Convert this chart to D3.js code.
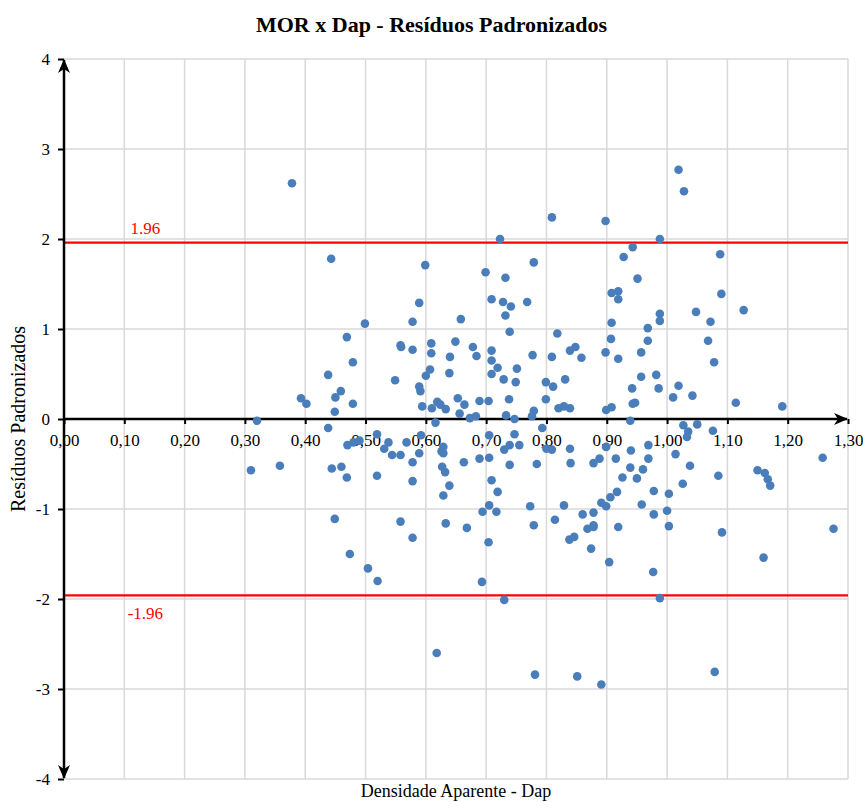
<!DOCTYPE html>
<html>
<head>
<meta charset="utf-8">
<script src="https://cdn.jsdelivr.net/npm/d3@7"></script>
<style>
    body { margin: 0; background: white; }
    text { font-family: "Liberation Serif", "Times New Roman", serif; }
</style>
</head>
<body>
<div id="canvas"></div>
<script>
// DATA
const dap = [
    0.378, 0.310, 0.320, 0.358, 0.393, 0.402, 0.443, 0.469, 0.499, 0.438,
    0.479, 0.450, 0.459, 0.449, 0.479, 0.599, 0.589, 0.578, 0.558, 0.559,
    0.578, 0.609, 0.609, 0.607, 0.600, 0.549, 0.589, 0.591, 0.594, 0.610,
    0.619, 0.809, 0.898, 0.723, 0.943, 0.928, 0.779, 0.699, 0.732, 0.951,
    0.908, 0.919, 0.919, 0.709, 0.728, 0.741, 0.768, 0.732, 0.658, 0.908,
    0.739, 0.818, 0.907, 0.649, 0.678, 0.709, 0.839, 0.848, 0.898, 0.957,
    0.640, 0.684, 0.777, 0.809, 0.858, 0.919, 0.709, 0.719, 0.751, 0.639,
    0.709, 0.729, 0.749, 0.799, 0.811, 0.831, 0.957, 0.942, 0.653, 0.689,
    0.704, 0.738, 0.799, 0.943, 0.947, 0.624, 0.633, 0.664, 0.656, 0.673,
    0.683, 0.733, 0.747, 0.776, 0.779, 0.820, 0.829, 0.839, 0.899, 0.908,
    0.939, 1.019, 1.028, 0.988, 1.088, 1.090, 1.127, 1.048, 0.988, 0.988,
    1.072, 0.968, 1.068, 0.968, 1.078, 0.982, 0.986, 1.019, 1.010, 1.042,
    1.114, 1.191, 0.438, 0.470, 0.480, 0.490, 0.519, 0.538, 0.531, 0.544,
    0.558, 0.568, 0.592, 0.589, 0.578, 0.578, 0.616, 0.444, 0.460, 0.469,
    0.519, 0.449, 0.558, 0.578, 0.474, 0.504, 0.520, 0.793, 0.629, 0.626,
    0.629, 0.627, 0.632, 0.639, 0.629, 0.633, 0.663, 0.689, 0.705, 0.705,
    0.730, 0.739, 0.747, 0.755, 0.739, 0.709, 0.719, 0.694, 0.705, 0.717,
    0.668, 0.704, 0.693, 0.730, 0.784, 0.773, 0.779, 0.800, 0.809, 0.814,
    0.829, 0.839, 0.840, 0.838, 0.846, 0.860, 0.878, 0.868, 0.878, 0.878,
    0.874, 0.878, 0.888, 0.899, 0.915, 0.891, 0.899, 0.906, 0.917, 0.926,
    0.939, 0.940, 0.950, 0.919, 0.904, 0.960, 0.969, 0.969, 0.978, 0.958,
    0.978, 0.977, 0.988, 1.000, 1.003, 1.003, 1.014, 1.026, 1.038, 1.027,
    1.035, 1.033, 1.050, 1.076, 1.085, 1.091, 1.150, 1.162, 1.167, 1.171,
    1.160, 1.258, 1.276, 0.618, 0.781, 0.851, 0.891, 1.079
];

const residuos = [
    2.62, -0.57, -0.02, -0.52, 0.23, 0.17, 1.78, 0.91, 1.06, 0.49,
    0.63, 0.24, 0.31, 0.08, 0.17, 1.71, 1.29, 1.08, 0.82, 0.80,
    0.77, 0.84, 0.73, 0.55, 0.48, 0.43, 0.36, 0.31, 0.14, 0.12,
    0.19, 2.24, 2.20, 2.00, 1.91, 1.80, 1.74, 1.63, 1.57, 1.56,
    1.40, 1.42, 1.33, 1.33, 1.30, 1.25, 1.30, 1.15, 1.11, 1.07,
    0.97, 0.95, 0.89, 0.86, 0.80, 0.76, 0.76, 0.80, 0.74, 0.74,
    0.69, 0.70, 0.71, 0.69, 0.68, 0.67, 0.65, 0.57, 0.56, 0.51,
    0.50, 0.44, 0.41, 0.41, 0.36, 0.44, 0.47, 0.34, 0.23, 0.20,
    0.20, 0.22, 0.22, 0.17, 0.18, 0.16, 0.11, 0.16, 0.06, 0.01,
    0.03, 0.04, 0.00, 0.03, 0.09, 0.12, 0.14, 0.12, 0.10, 0.13,
    -0.02, 2.77, 2.53, 2.00, 1.83, 1.39, 1.21, 1.19, 1.17, 1.09,
    1.08, 1.01, 0.87, 0.87, 0.63, 0.49, 0.34, 0.37, 0.24, 0.26,
    0.18, 0.14, -0.10, -0.29, -0.26, -0.24, -0.17, -0.26, -0.33, -0.40,
    -0.40, -0.26, -0.18, -0.38, -0.48, -0.69, -0.04, -0.55, -0.53, -0.65,
    -0.63, -1.11, -1.14, -1.32, -1.50, -1.66, -1.80, -0.10, -0.31, -0.36,
    -0.38, -0.53, -0.59, -0.74, -0.85, -1.16, -0.48, -0.44, -0.18, -0.43,
    -0.34, -0.29, -0.17, -0.29, -0.51, -0.68, -0.81, -1.03, -0.96, -1.03,
    -1.21, -1.37, -1.81, -2.01, -0.50, -0.97, -1.18, -0.33, -0.34, -1.12,
    -0.96, -0.33, -0.49, -1.34, -1.31, -1.06, -1.04, -1.22, -1.18, -1.20,
    -1.44, -0.49, -0.44, -0.31, -0.44, -0.93, -0.97, -0.87, -0.81, -0.65,
    -0.54, -0.35, -0.66, -1.20, -1.59, -0.56, -0.29, -0.44, -0.80, -0.95,
    -1.06, -1.70, -1.99, -1.02, -1.19, -0.83, -0.39, -0.72, -0.52, -0.07,
    -0.14, -0.20, -0.06, -0.13, -0.63, -1.26, -0.57, -0.60, -0.67, -0.74,
    -1.54, -0.43, -1.22, -2.60, -2.84, -2.86, -2.95, -2.81
];

const xTicks = [0, 0.1, 0.2, 0.3, 0.4, 0.5, 0.6, 0.7, 0.8, 0.9, 1.0, 1.1, 1.2, 1.3];
const xTickLabels = ["0,00", "0,10", "0,20", "0,30", "0,40", "0,50", "0,60",
    "0,70", "0,80", "0,90", "1,00", "1,10", "1,20", "1,30"];
const yTicks = [-4, -3, -2, -1, 0, 1, 2, 3, 4];
const yTickLabels = ["-4", "-3", "-2", "-1", "0", "1", "2", "3", "4"];
const limits = [1.96, -1.96];
const limitLabels = ["1.96", "-1.96"];

// DIMENSIONS
const width = 863;
const height = 802;
const margin = { top: 59, right: 15, bottom: 23, left: 64 };

// CANVAS
const svg = d3.select("#canvas")
    .append("svg")
    .attr("width", width)
    .attr("height", height);

// SCALES
const x = d3.scaleLinear().domain([0, 1.3]).range([margin.left, width - margin.right]);
const y = d3.scaleLinear().domain([-4, 4]).range([height - margin.bottom, margin.top]);

// ARROW MARKER
svg.append("defs").append("marker")
    .attr("id", "arrow")
    .attr("viewBox", "0 0 14 12")
    .attr("refX", 13)
    .attr("refY", 6)
    .attr("markerUnits", "userSpaceOnUse")
    .attr("markerWidth", 14)
    .attr("markerHeight", 12)
    .attr("orient", "auto-start-reverse")
    .append("path")
    .attr("d", "M0,0 L14,6 L0,12 L4,6 Z")
    .attr("fill", "black");

// GRID
const grid = svg.append("g").attr("stroke", "#d9d9d9").attr("stroke-width", 1.5);
grid.selectAll(".vg")
    .data(xTicks.slice(1))
    .enter().append("line")
    .attr("x1", d => x(d)).attr("x2", d => x(d))
    .attr("y1", y(4)).attr("y2", y(-4));
grid.selectAll(".hg")
    .data(yTicks)
    .enter().append("line")
    .attr("x1", x(0)).attr("x2", x(1.3))
    .attr("y1", d => y(d)).attr("y2", d => y(d));

// LIMIT LINES
svg.selectAll(".limit")
    .data(limits)
    .enter().append("line")
    .attr("x1", x(0)).attr("x2", x(1.3))
    .attr("y1", d => y(d)).attr("y2", d => y(d))
    .attr("stroke", "#ff0000")
    .attr("stroke-width", 2.2);

svg.selectAll(".limitLabel")
    .data(limits)
    .enter().append("text")
    .attr("x", x(0.135))
    .attr("y", d => d > 0 ? y(d) - 9 : y(d) + 24)
    .attr("text-anchor", "middle")
    .attr("fill", "#ff0000")
    .style("font-size", "17px")
    .text((d, i) => limitLabels[i]);

// AXES
const xAx = d3.axisBottom(x)
    .tickValues(xTicks)
    .tickFormat((d, i) => xTickLabels[i])
    .tickSize(5)
    .tickPadding(10);

const yAx = d3.axisLeft(y)
    .tickValues(yTicks)
    .tickFormat((d, i) => yTickLabels[i])
    .tickSize(6)
    .tickPadding(8);

const xaxis = svg.append("g")
    .attr("transform", `translate(0, ${y(0)})`)
    .call(xAx);

const yaxis = svg.append("g")
    .attr("transform", `translate(${x(0)}, 0)`)
    .call(yAx);

[xaxis, yaxis].forEach(a => {
    a.select(".domain").remove();
    a.selectAll(".tick line").attr("stroke", "black").attr("stroke-width", 2);
    a.selectAll(".tick text")
        .attr("fill", "black")
        .style("font-family", "'Liberation Serif', serif")
        .style("font-size", "17px");
});

svg.append("line")
    .attr("x1", x(0)).attr("x2", x(1.3) - 1)
    .attr("y1", y(0)).attr("y2", y(0))
    .attr("stroke", "black")
    .attr("stroke-width", 2.5)
    .attr("marker-end", "url(#arrow)");

svg.append("line")
    .attr("x1", x(0)).attr("x2", x(0))
    .attr("y1", y(-4) - 1).attr("y2", y(4) + 1)
    .attr("stroke", "black")
    .attr("stroke-width", 2.5)
    .attr("marker-start", "url(#arrow)")
    .attr("marker-end", "url(#arrow)");

// TITLE AND LABELS
svg.append("text")
    .attr("x", width / 2)
    .attr("y", 32)
    .attr("text-anchor", "middle")
    .style("font-size", "22px")
    .style("font-weight", "bold")
    .text("MOR x Dap - Resíduos Padronizados");

svg.append("text")
    .attr("x", (x(0) + x(1.3)) / 2)
    .attr("y", 797)
    .attr("text-anchor", "middle")
    .style("font-size", "18px")
    .text("Densidade Aparente - Dap");

svg.append("text")
    .attr("transform", `translate(25, ${y(0)}) rotate(-90)`)
    .attr("text-anchor", "middle")
    .style("font-size", "20px")
    .text("Resíduos Padronizados");

// POINTS
svg.append("g")
    .selectAll("circle")
    .data(dap)
    .enter().append("circle")
    .attr("cx", d => x(d))
    .attr("cy", (d, i) => y(residuos[i]))
    .attr("r", 4.3)
    .attr("fill", "#4a7ebb");
</script>
</body>
</html>
